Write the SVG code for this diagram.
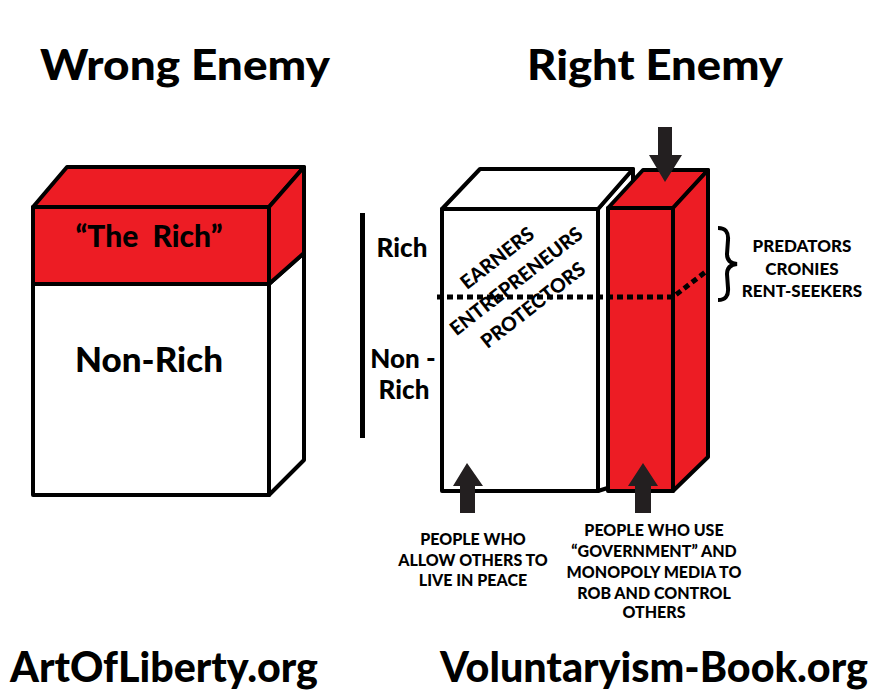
<svg xmlns="http://www.w3.org/2000/svg" width="875" height="700" viewBox="0 0 875 700">
<style>
text{font-family:"Lato","Open Sans","Liberation Sans",sans-serif;font-weight:900;fill:#000}
.box{stroke:#000;stroke-width:4;stroke-linejoin:round}
.red{fill:#ED1C24}
.white{fill:#fff}
.title{font-size:42px}
.mid{text-anchor:middle}
.cap{font-size:16px;text-anchor:middle}
.diag{font-size:19.5px;text-anchor:middle}
.side{font-size:17px;text-anchor:middle}
.arrow{fill:#231f20}
.dots{stroke:#000;stroke-width:5;stroke-dasharray:6 4;fill:none}
</style>
<rect width="875" height="700" fill="#fff"/>

<g id="titles">
<text class="title" x="40" y="80" textLength="290" lengthAdjust="spacingAndGlyphs">Wrong Enemy</text>
<text class="title" x="527" y="80" textLength="256" lengthAdjust="spacingAndGlyphs">Right Enemy</text>
</g>

<g id="wrong-box">
<polygon class="box red" points="33,207 67,167 304,167 269,207"/>
<polygon class="box white" points="269,284 304,253 304,460 269,495"/>
<polygon class="box red" points="269,207 304,167 304,253 269,284"/>
<rect class="box red" x="33" y="207" width="236" height="77"/>
<rect class="box white" x="33" y="284" width="236" height="211"/>
<text class="mid" x="149" y="247" font-size="30">“The&#160; Rich”</text>
<text class="mid" x="149" y="372" font-size="35">Non-Rich</text>
</g>

<g id="scale">
<rect x="360" y="213" width="5" height="225" fill="#000"/>
<text class="mid" x="402" y="257" font-size="26">Rich</text>
<text class="mid" x="403" y="368" font-size="26">Non -</text>
<text class="mid" x="404" y="399" font-size="26">Rich</text>
</g>

<g id="white-column">
<polygon class="box white" points="598,209 633,169 633,480 598,491"/>
<polygon class="box white" points="442,209 480,169 633,169 598,209"/>
<rect class="box white" x="442" y="209" width="156" height="282"/>
</g>

<g id="red-column">
<polygon class="box red" points="608,208 643,170 708,170 673,208"/>
<polygon class="box red" points="673,208 708,170 708,457 673,491"/>
<rect class="box red" x="608" y="208" width="65" height="283"/>
</g>

<g id="divider">
<polyline class="dots" points="437,297 673,297 708,270"/>
</g>

<g id="roles">
<text class="diag" transform="rotate(-38 497 258)" x="497" y="265">EARNERS</text>
<text class="diag" transform="rotate(-38 516 281)" x="516" y="288">ENTREPRENEURS</text>
<text class="diag" transform="rotate(-38 533 305)" x="533" y="312">PROTECTORS</text>
</g>

<g id="predators">
<path d="M718,228 Q729,228 728,240 L727,254 Q727,263 737,264 Q727,265 727,274 L728,288 Q729,300 718,300" fill="none" stroke="#000" stroke-width="4"/>
<text class="side" x="802" y="252">PREDATORS</text>
<text class="side" x="802" y="275">CRONIES</text>
<text class="side" x="802" y="297">RENT-SEEKERS</text>
</g>

<g id="connectors">
<polygon class="arrow" points="658,127 672,127 672,155 682,155 665,182 649,155 658,155"/>
<polygon class="arrow" points="460,513 475,513 475,486 483,486 467,463 453,486 460,486"/>
<polygon class="arrow" points="635,513 651,513 651,486 658,486 643,463 628,486 635,486"/>
</g>

<g id="captions">
<text class="cap" x="473" y="545">PEOPLE WHO</text>
<text class="cap" x="473" y="566">ALLOW OTHERS TO</text>
<text class="cap" x="473" y="586">LIVE IN PEACE</text>
<text class="cap" x="654" y="536">PEOPLE WHO USE</text>
<text class="cap" x="654" y="557">“GOVERNMENT” AND</text>
<text class="cap" x="654" y="578">MONOPOLY MEDIA TO</text>
<text class="cap" x="654" y="599">ROB AND CONTROL</text>
<text class="cap" x="654" y="618">OTHERS</text>
</g>

<g id="footer">
<text class="title" x="10" y="682" textLength="308" lengthAdjust="spacingAndGlyphs">ArtOfLiberty.org</text>
<text class="title" x="440" y="682" textLength="428" lengthAdjust="spacingAndGlyphs">Voluntaryism-Book.org</text>
</g>
</svg>
